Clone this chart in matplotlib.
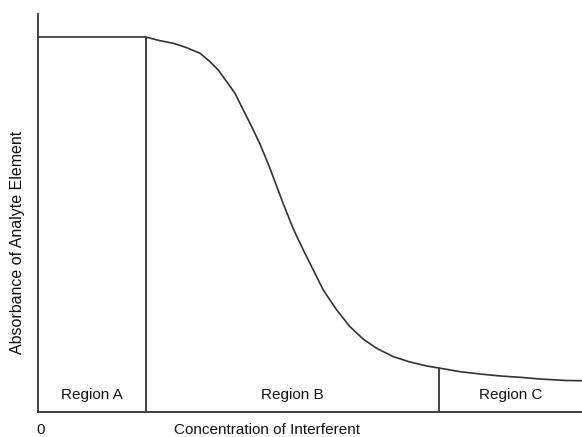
import matplotlib
matplotlib.use("Agg")
import matplotlib.pyplot as plt

# Data (arbitrary units)
plateau_x = [0, 19.85]
plateau_y = [94.2, 94.2]
curve_x = [19.85, 22.43, 24.87, 27.33, 29.78, 31.62, 33.14, 34.69, 36.21, 37.74,
           39.28, 40.81, 42.33, 43.25, 45.09, 46.93, 48.77, 50.61, 52.44, 54.91,
           57.35, 59.80, 62.26, 65.31, 68.38, 71.45, 73.71, 77.57, 81.25, 84.93,
           88.60, 92.28, 97.19, 100]
curve_y = [94.2, 93.29, 92.64, 91.53, 90.13, 88.02, 85.93, 82.99, 80.08, 75.88,
           71.68, 67.3, 62.3, 59.0, 52.3, 46.0, 40.70, 35.68, 30.65, 25.63,
           21.43, 18.3, 16.0, 13.9, 12.56, 11.56, 11.06, 10.13, 9.55, 9.05,
           8.72, 8.29, 7.91, 7.86]
boundaries_x = [19.85, 73.71]
boundaries_top = [94.2, 11.06]
region_labels = ["Region A", "Region B", "Region C"]
region_edges = [0, 19.85, 73.71, 100]
x_ticks = [0.4]
x_tick_labels = ["0"]

col = "#333333"
tcol = "#111111"
plt.rcParams['font.family'] = ['Liberation Sans', 'DejaVu Sans']

fig = plt.figure(figsize=(5.82, 4.37), dpi=100)
ax = fig.add_axes([38/582, 25/437, 1 - 38/582, (412-14)/437])

ax.plot(plateau_x, plateau_y, color=col, lw=1.2, solid_capstyle='butt')
ax.plot(curve_x, curve_y, color=col, lw=1.2)
for bx, bt in zip(boundaries_x, boundaries_top):
    ax.plot([bx, bx], [0, bt], color=col, lw=1.3, solid_capstyle='butt')

for lab, a, b in zip(region_labels, region_edges[:-1], region_edges[1:]):
    ax.text((a + b) / 2, 4.3, lab, ha='center', va='center', fontsize=11, color=tcol)

ax.set_xlim(0, 100)
ax.set_ylim(0, 100)
for s in ['top', 'right']:
    ax.spines[s].set_visible(False)
for s in ['left', 'bottom']:
    ax.spines[s].set_color(col)
    ax.spines[s].set_linewidth(1.3)
ax.set_xticks(x_ticks)
ax.set_xticklabels(x_tick_labels, fontsize=11, color=tcol)
ax.set_yticks([])
ax.tick_params(axis='x', length=0, pad=8)
ax.set_xlabel("Concentration of Interferent", fontsize=11, color=tcol, va='center')
ax.xaxis.set_label_coords((267-38)/544, -18/398)
ax.set_ylabel("Absorbance of Analyte Element", fontsize=11.5, color=tcol, va='center')
ax.yaxis.set_label_coords(-(38-18)/544, (412-242)/398)

fig.savefig("out.png", dpi=100)
